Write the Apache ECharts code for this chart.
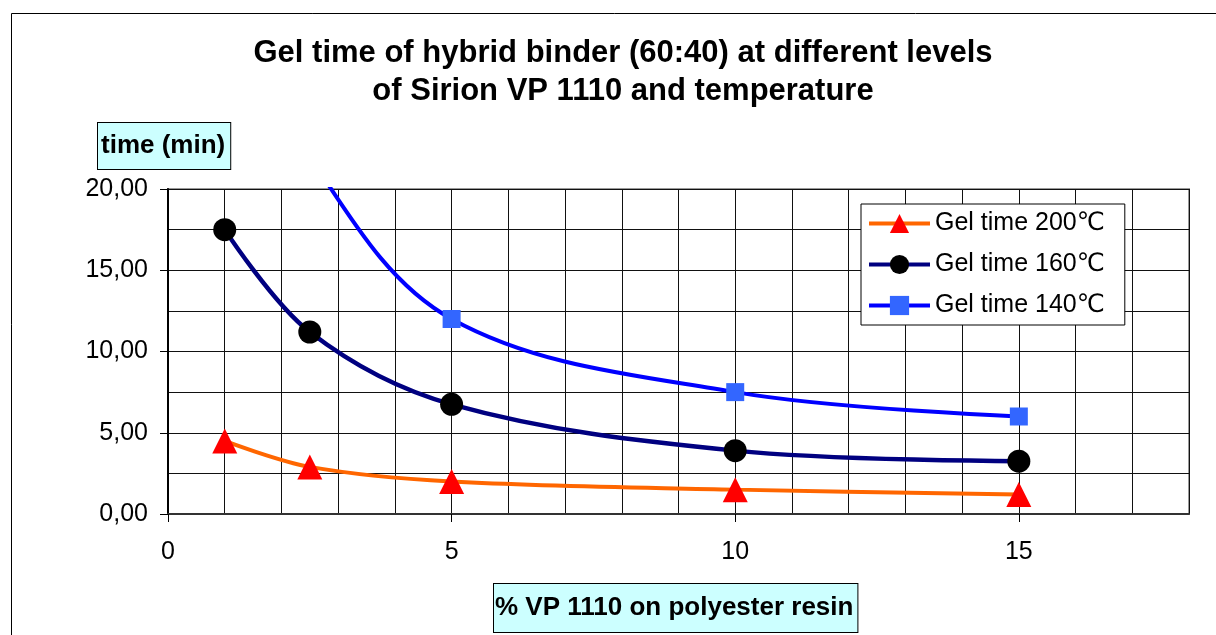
<!DOCTYPE html>
<html>
<head>
<meta charset="utf-8">
<script src="https://cdn.jsdelivr.net/npm/echarts@6/dist/echarts.min.js"></script>
<style>
html,body{margin:0;padding:0;background:#fff;}
#chart{width:1216px;height:635px;}
</style>
</head>
<body>
<div id="chart"></div>
<script>
const titleText = 'Gel time of hybrid binder (60:40) at different levels\nof Sirion VP 1110 and temperature';
const xAxisName = '% VP 1110 on polyester resin';
const yAxisName = 'time (min)';
const xValues = [1, 2.5, 5, 10, 15];
const seriesNames = ['Gel time 200\u2103', 'Gel time 160\u2103', 'Gel time 140\u2103'];
const gel200 = [4.5, 2.9, 2.0, 1.5, 1.2];
const gel160 = [17.5, 11.2, 6.75, 3.9, 3.25];
const gel140 = [33, 22, 12.0, 7.5, 6.0];
const xTickLabels = [0, 5, 10, 15];
const yTickLabels = [0, 5, 10, 15, 20];

const FONT = '"Liberation Sans", Arial, "DejaVu Sans", sans-serif';
const pairs = arr => xValues.map((x, i) => [x, arr[i]]);

const chart = echarts.init(document.getElementById('chart'), null, {renderer: 'canvas'});
chart.setOption({
  backgroundColor: '#fff',
  animation: false,
  textStyle: {fontFamily: FONT},
  title: {
    text: titleText,
    left: 618,
    top: 29,
    textAlign: 'center',
    textStyle: {fontFamily: FONT, fontSize: 31, fontWeight: 'bold', color: '#000', lineHeight: 38}
  },
  grid: {
    left: 168, top: 189, right: 27, bottom: 121,
    show: true, borderColor: '#999', borderWidth: 2, backgroundColor: '#fff'
  },
  legend: {
    orient: 'vertical',
    left: 861, top: 204,
    itemWidth: 61, itemHeight: 24, itemGap: 16,
    padding: [7, 20, 7, 6],
    backgroundColor: '#fff', borderColor: '#000', borderWidth: 1,
    lineStyle: {width: 4},
    textStyle: {fontFamily: FONT, fontSize: 25, color: '#000'},
    data: seriesNames
  },
  xAxis: [
    {
      type: 'value', min: 0, max: 18, interval: 1, position: 'bottom',
      axisLine: {show: true, onZero: false, lineStyle: {color: '#333', width: 2}},
      axisTick: {show: false},
      axisLabel: {customValues: xTickLabels, fontSize: 25, color: '#000', margin: 26, fontFamily: FONT},
      splitLine: {show: true, lineStyle: {color: '#111', width: 1}}
    },
    {
      type: 'value', min: 0, max: 18, interval: 1, position: 'bottom',
      axisLine: {show: false, onZero: false},
      axisTick: {show: true, length: 8, customValues: xTickLabels, lineStyle: {color: '#000'}},
      axisLabel: {show: false},
      splitLine: {show: false}
    }
  ],
  yAxis: [
    {
      type: 'value', min: 0, max: 20, interval: 2.5, position: 'left',
      axisLine: {show: true, onZero: false, lineStyle: {color: '#000', width: 2}},
      axisTick: {show: false},
      axisLabel: {customValues: yTickLabels, fontSize: 25, color: '#000', margin: 20, fontFamily: FONT,
        formatter: v => v.toFixed(2).replace('.', ',')},
      splitLine: {show: true, lineStyle: {color: '#111', width: 1}}
    },
    {
      type: 'value', min: 0, max: 20, interval: 2.5, position: 'left',
      axisLine: {show: false, onZero: false},
      axisTick: {show: true, length: 8, customValues: yTickLabels, lineStyle: {color: '#000'}},
      axisLabel: {show: false},
      splitLine: {show: false}
    }
  ],
  graphic: [
    {type: 'rect', silent: true, z: -10, shape: {x: 11.5, y: 13.5, width: 1260, height: 700},
     style: {fill: 'none', stroke: '#000', lineWidth: 1}},
    {type: 'text', left: 97, top: 122, z: 10,
     style: {text: yAxisName, font: 'bold 26px ' + FONT, fill: '#000',
       backgroundColor: '#CCFFFF', borderColor: '#000', borderWidth: 1, padding: [10, 5, 10, 3]}},
    {type: 'text', left: 493, top: 583, z: 10,
     style: {text: xAxisName, font: 'bold 26px ' + FONT, fill: '#000',
       backgroundColor: '#CCFFFF', borderColor: '#000', borderWidth: 1, padding: [11, 4, 11, 1]}}
  ],
  series: [
    {name: seriesNames[0], type: 'line', data: pairs(gel200), smooth: 0.35, clip: true,
     xAxisIndex: 0, yAxisIndex: 0,
     symbol: 'triangle', symbolSize: 25,
     lineStyle: {color: '#FF6600', width: 4}, itemStyle: {color: '#FF0000'}, z: 3},
    {name: seriesNames[1], type: 'line', data: pairs(gel160), smooth: 0.35, clip: true,
     xAxisIndex: 0, yAxisIndex: 0,
     symbol: 'circle', symbolSize: 23,
     lineStyle: {color: '#000080', width: 4.5}, itemStyle: {color: '#000000'}, z: 3},
    {name: seriesNames[2], type: 'line', data: pairs(gel140), smooth: 0.35, clip: true,
     xAxisIndex: 0, yAxisIndex: 0,
     symbol: 'rect', symbolSize: 18,
     lineStyle: {color: '#0000FF', width: 4}, itemStyle: {color: '#3366FF'}, z: 3}
  ]
});
</script>
</body>
</html>
